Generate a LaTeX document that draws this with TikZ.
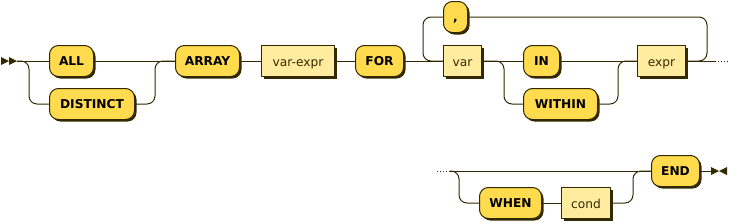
\documentclass[tikz,border=0pt]{standalone}
\usepackage{fontspec}
\setmainfont{DejaVu Sans}
\usetikzlibrary{shadows}
\providecommand{\Term}{FFDB4D}
\providecommand{\NonTerm}{FFEC9E}
\providecommand{\Rail}{332900}
\newcommand{\Bend}{8pt}
\newcommand{\TokFont}{\fontsize{12.2}{14}\selectfont}
\definecolor{termfill}{HTML}{\Term}
\definecolor{ntfill}{HTML}{\NonTerm}
\definecolor{rail}{HTML}{\Rail}

\tikzset{
  railline/.style={draw=rail, line width=1pt, rounded corners=\Bend},
  tok/.style={draw=rail, line width=1pt, minimum height=31pt, inner sep=0pt, anchor=west,
    text height=9.2pt, text depth=0pt,
    drop shadow={shadow xshift=2pt, shadow yshift=-2pt, fill=rail, opacity=1}},
  kwbox/.style={tok, fill=termfill, rounded corners=9pt, font=\TokFont\bfseries},
  refbox/.style={tok, fill=ntfill, text=rail, font=\TokFont, text height=10pt},
}

\begin{document}
\begin{tikzpicture}[x=1pt,y=-1pt, line join=round]
  \useasboundingbox (0,0) rectangle (729,223);

  % ---- first line ---------------------------------------------------------
  \node[kwbox, minimum width=44pt] (all) at (49,61) {ALL};
  \node[kwbox, minimum width=85pt] (distinct) at (49,104) {DISTINCT};
  \node[kwbox, minimum width=64pt] (array) at (175,61) {ARRAY};
  \node[refbox, minimum width=73pt] (varexpr) at (261,61) {var-expr};
  \node[kwbox, minimum width=48pt] (for) at (355,61) {FOR};
  \node[kwbox, minimum width=24pt] (comma) at (443,17) {,};
  \node[refbox, minimum width=38pt] (var) at (443,61) {var};
  \node[kwbox, minimum width=36pt] (in) at (523,61) {IN};
  \node[kwbox, minimum width=74pt] (within) at (523,104) {WITHIN};
  \node[refbox, minimum width=48pt] (expr) at (637,61) {expr};

  % ---- second line --------------------------------------------------------
  \node[kwbox, minimum width=62pt] (when) at (479,203) {WHEN};
  \node[refbox, minimum width=49pt] (cond) at (561,203) {cond};
  \node[kwbox, minimum width=48pt] (end) at (651,171) {END};

  % ---- start and stop marks -----------------------------------------------
  \coordinate (start) at (17,61);
  \fill[rail] (1,57) -- (9,61) -- (1,65) -- cycle;
  \fill[rail] (9,57) -- (start) -- (9,65) -- cycle;
  \coordinate (stop) at (711,171);
  \fill[rail] (stop) -- ++(0,-4) -- ++(8,4) -- ++(-8,4) -- cycle;
  \fill[rail] (727,167) -- (719,171) -- (727,175) -- cycle;

  \coordinate (cut1) at (715,61);
  \coordinate (edge1) at (729,61);
  \coordinate (edge2) at (437,171);
  \coordinate (cut2) at (450,171);

  % ---- rails, first line --------------------------------------------------
  \draw[railline] (start) -- (all.west);
  \draw[railline] (start) -- ++(12,0) |- (distinct.west);
  \draw[railline] (all.east) -- (array.west);
  \draw[railline] (distinct.east) -| ([xshift=-20pt]array.west) -- (array.west);
  \draw[railline] (array.east) -- (varexpr.west);
  \draw[railline] (varexpr.east) -- (for.west);
  \draw[railline] (for.east) -- (var.west);
  \draw[railline] (var.west) -- ++(-20,0) |- (comma.west);
  \draw[railline] (comma.east) -| ([xshift=21pt]expr.east) -- (expr.east);
  \draw[railline] (var.east) -- (in.west);
  \draw[railline] (var.east) -- ++(22,0) |- (within.west);
  \draw[railline] (in.east) -- (expr.west);
  \draw[railline] (within.east) -- ++(20,0) |- (expr.west);
  \draw[railline] (expr.east) -- (cut1);
  \draw[rail, line width=1pt, dash pattern=on 1pt off 2pt] (cut1) -- (edge1);

  % ---- rails, second line -------------------------------------------------
  \draw[rail, line width=1pt, dash pattern=on 1pt off 2pt] (edge2) -- (cut2);
  \draw[railline] (cut2) -- (end.west);
  \draw[railline] (cut2) -- ++(9,0) |- (when.west);
  \draw[railline] (when.east) -- (cond.west);
  \draw[railline] (cond.east) -- ++(22,0) |- (end.west);
  \draw[railline] (end.east) -- (stop);

\end{tikzpicture}
\end{document}
